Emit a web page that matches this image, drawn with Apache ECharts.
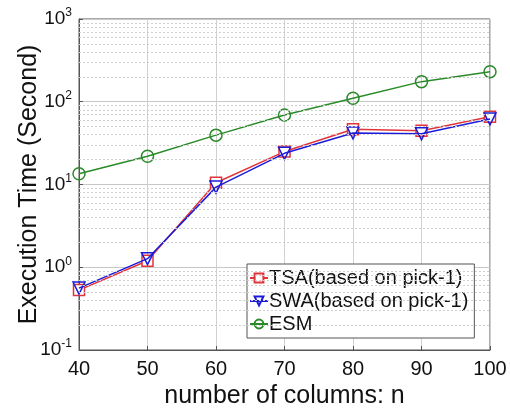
<!DOCTYPE html>
<html><head><meta charset="utf-8">
<script src="https://cdn.jsdelivr.net/npm/echarts@6/dist/echarts.min.js"></script>
<style>html,body{margin:0;padding:0;background:#fff}#c{width:510px;height:410px}</style>
</head><body><div id="c"></div>
<script>
var columns = [40, 50, 60, 70, 80, 90, 100];
var tsa = [0.53, 1.2, 10.5, 25, 46.5, 44.5, 66];
var swa = [0.56, 1.27, 9.3, 23.8, 42, 41, 62];
var esm = [13.5, 22, 39.5, 69, 110, 175, 231];
var seriesNames = ['TSA(based on pick-1)', 'SWA(based on pick-1)', 'ESM'];
var minorGridValues = [];
[0.1, 1, 10, 100].forEach(function (d) { for (var k = 2; k <= 9; k++) minorGridValues.push(+(d * k).toPrecision(3)); });

var chart = echarts.init(document.getElementById('c'));
var font = 'Liberation Sans, Arial, sans-serif';
function pairs(arr) { return columns.map(function (c, i) { return [c, arr[i]]; }); }

chart.setOption({
  animation: false,
  textStyle: { fontFamily: font },
  grid: { left: 79, right: 20, top: 19, bottom: 60, show: true, borderColor: '#555', borderWidth: 1,
          containLabel: false, outerBoundsMode: 'none' },
  xAxis: {
    type: 'value', min: 40, max: 100, interval: 10,
    name: 'number of columns: n', nameLocation: 'middle', nameGap: 34, nameMoveOverlap: false,
    nameTextStyle: { fontSize: 25, color: '#111', fontFamily: font },
    axisLine: { show: true, lineStyle: { color: '#555' } },
    axisTick: { inside: true, length: 4, lineStyle: { color: '#555' } },
    axisLabel: { fontSize: 20, color: '#111', margin: 9, fontFamily: font },
    splitLine: { show: true, lineStyle: { color: '#d0d0d0', width: 1 } }
  },
  yAxis: {
    type: 'log', logBase: 10, min: 0.1, max: 1000,
    name: 'Execution Time (Second)', nameLocation: 'middle', nameGap: 37, nameMoveOverlap: false,
    nameTextStyle: { fontSize: 25, color: '#111', fontFamily: font },
    axisLine: { show: true, lineStyle: { color: '#555' } },
    axisTick: { inside: true, length: 4, lineStyle: { color: '#555' } },
    axisLabel: {
      margin: 7, color: '#111',
      formatter: function (v) { var e = Math.round(Math.log10(v)); return '{b|10}{s|' + e + '}'; },
      rich: {
        b: { fontSize: 19, color: '#111', fontFamily: font },
        s: { fontSize: 12, color: '#111', verticalAlign: 'top', padding: [0, 0, 12, 0], fontFamily: font }
      }
    },
    splitLine: { show: true, lineStyle: { color: '#c8c8c8', width: 1 } }
  },
  legend: {
    orient: 'vertical', left: 247, top: 264, width: 227,
    backgroundColor: '#fff', borderColor: '#555', borderWidth: 1, borderRadius: 0,
    padding: [4, 6, 4, 2], itemGap: 3, itemWidth: 18, itemHeight: 11,
    textStyle: { fontSize: 20, color: '#111', fontFamily: font, padding: [0, 0, 0, -4] },
    data: seriesNames
  },
  series: [
    {
      name: 'grid-minor', type: 'line', data: [], silent: true,
      markLine: {
        silent: true, symbol: 'none', label: { show: false },
        lineStyle: { color: '#cfcfcf', type: [2, 2], width: 1 },
        data: minorGridValues.map(function (v) { return { yAxis: v }; })
      }
    },
    {
      name: seriesNames[0], type: 'line', data: pairs(tsa),
      symbol: 'rect', symbolSize: 11, showAllSymbol: true,
      lineStyle: { color: '#e0353a', width: 1.5 },
      itemStyle: { color: '#fff', borderColor: '#e0353a', borderWidth: 1.5 }, z: 3
    },
    {
      name: seriesNames[1], type: 'line', data: pairs(swa),
      symbol: 'triangle', symbolRotate: 180, symbolSize: 12,
      lineStyle: { color: '#1c1cd8', width: 1.5 },
      itemStyle: { color: 'rgba(255,255,255,0)', borderColor: '#1c1cd8', borderWidth: 1.5 }, z: 4
    },
    {
      name: seriesNames[2], type: 'line', data: pairs(esm),
      symbol: 'circle', symbolSize: 12,
      lineStyle: { color: '#2a8a2a', width: 1.5 },
      itemStyle: { color: 'rgba(255,255,255,0)', borderColor: '#2a8a2a', borderWidth: 1.5 }, z: 3
    }
  ]
});
</script></body></html>
